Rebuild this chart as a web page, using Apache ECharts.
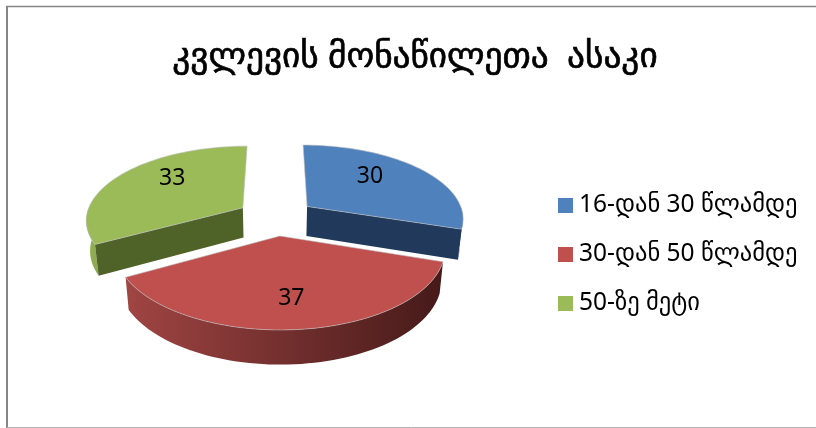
<!DOCTYPE html>
<html>
<head>
<meta charset="utf-8">
<style>
  html, body { margin: 0; padding: 0; background: #fff; }
  #chart { width: 816px; height: 428px; }
</style>
<script src="https://cdn.jsdelivr.net/npm/echarts@6/dist/echarts.min.js"></script>
</head>
<body>
<div id="chart"></div>
<script>
const titleText = 'კვლევის მონაწილეთა  ასაკი';
const categories = ['16-დან 30 წლამდე', '30-დან 50 წლამდე', '50-ზე მეტი'];
const values = [30, 37, 33];

const topColors = ['#4f81bd', '#c0504d', '#9bbb59'];
const faceColors = ['#213a5c', '#7a3331', '#4f6228'];
const rimColors = [['#3d6594', '#2c4a6f'], ['#a04543', '#451a19'], ['#93b253', '#8aa84f']];
const labelNudge = [[-12, -5], [0, 5], [10, -7]];

// fake 3D pie: unit circle on the floor, projected with a bit of perspective
const CX = 276, CY = 217, RX = 157, RY = 73.5, PERSP = 0.15, DEPTH = 30, BOTTOM_SCALE = 0.98, EXPLODE = 0.25;
const FONT = '"Noto Sans", "DejaVu Sans", sans-serif';

const total = values.reduce((a, b) => a + b, 0);

function project(X, Y, low) {
    const d = 1 - PERSP * Y;
    const s = low ? BOTTOM_SCALE : 1;
    return [CX + RX * X * s / d, CY + (RY * Y * s + (low ? DEPTH : 0)) / d];
}

function renderSlice(params, api) {
    const i = params.seriesIndex === 0 ? 0 : params.seriesIndex === 1 ? 2 : 1; // back slices first
    const value = api.value(0);
    let before = 0;
    for (let k = 0; k < i; k++) before += values[k];
    const start = before / total * 360;
    const end = (before + value) / total * 360;
    const mid = (start + end) / 2 * Math.PI / 180;
    const ox = EXPLODE * Math.sin(mid), oy = -EXPLODE * Math.cos(mid);

    const at = (deg, r, low) => {
        const a = deg * Math.PI / 180;
        return project(ox + r * Math.sin(a), oy - r * Math.cos(a), low);
    };
    const arc = (a, b, low) => {
        const pts = [];
        const n = Math.max(2, Math.ceil(Math.abs(b - a) / 2));
        for (let k = 0; k <= n; k++) pts.push(at(a + (b - a) * k / n, 1, low));
        return pts;
    };

    const children = [];
    // outer rim, only the part that faces the viewer
    const r0 = Math.max(start, 90), r1 = Math.min(end, 270);
    if (r1 > r0) {
        children.push({
            type: 'polygon',
            shape: { points: arc(r0, r1, false).concat(arc(r0, r1, true).reverse()) },
            style: {
                fill: {
                    type: 'linear', x: 0, y: 0, x2: 1, y2: 0,
                    colorStops: [
                        { offset: 0, color: rimColors[i][0] },
                        { offset: 1, color: rimColors[i][1] }
                    ]
                }
            }
        });
    }
    // cut faces
    const sideFace = deg => ({
        type: 'polygon',
        shape: { points: [at(deg, 0, false), at(deg, 1, false), at(deg, 1, true), at(deg, 0, true)] },
        style: { fill: faceColors[i] }
    });
    if (Math.sin(end * Math.PI / 180) > 0.01) children.push(sideFace(end));
    if (Math.sin(start * Math.PI / 180) < -0.01) children.push(sideFace(start));
    // top
    children.push({
        type: 'polygon',
        shape: { points: [at(0, 0, false)].concat(arc(start, end, false)) },
        style: { fill: topColors[i], stroke: 'rgba(190,190,190,0.6)', lineWidth: 1 }
    });
    // value label
    const lp = at((start + end) / 2, 0.65, false);
    children.push({
        type: 'text',
        x: lp[0] + labelNudge[i][0],
        y: lp[1] + labelNudge[i][1],
        style: { text: String(value), fill: '#000', font: '23px ' + FONT, textAlign: 'center', textVerticalAlign: 'middle' }
    });
    return { type: 'group', children: children };
}

const chart = echarts.init(document.getElementById('chart'), null, { renderer: 'canvas' });

const drawOrder = [0, 2, 1];

chart.setOption({
    animation: false,
    backgroundColor: '#fff',
    title: {
        text: titleText,
        left: 410,
        top: 34,
        textAlign: 'center',
        textStyle: {
            color: '#000', fontFamily: FONT, fontSize: 35.3, fontWeight: 'normal',
            textBorderColor: '#000', textBorderWidth: 0.7
        }
    },
    legend: {
        orient: 'vertical',
        left: 553,
        top: 188,
        itemWidth: 15,
        itemHeight: 15,
        itemGap: 24,
        icon: 'rect',
        selectedMode: false,
        data: categories,
        textStyle: { color: '#000', fontFamily: FONT, fontSize: 24.5, padding: [0, 0, 0, 1] }
    },
    graphic: [
        { type: 'line', shape: { x1: 6, y1: 6.5, x2: 816, y2: 6.5 }, style: { stroke: '#868686', lineWidth: 1.5 } },
        { type: 'line', shape: { x1: 7, y1: 6, x2: 7, y2: 428 }, style: { stroke: '#868686', lineWidth: 2 } },
        { type: 'line', shape: { x1: 7, y1: 427.5, x2: 816, y2: 427.5 }, style: { stroke: '#b4b4b4', lineWidth: 1 } }
    ],
    series: drawOrder.map(i => ({
        type: 'custom',
        name: categories[i],
        coordinateSystem: 'none',
        itemStyle: { color: topColors[i] },
        renderItem: renderSlice,
        data: [[values[i]]]
    }))
});
</script>
</body>
</html>
